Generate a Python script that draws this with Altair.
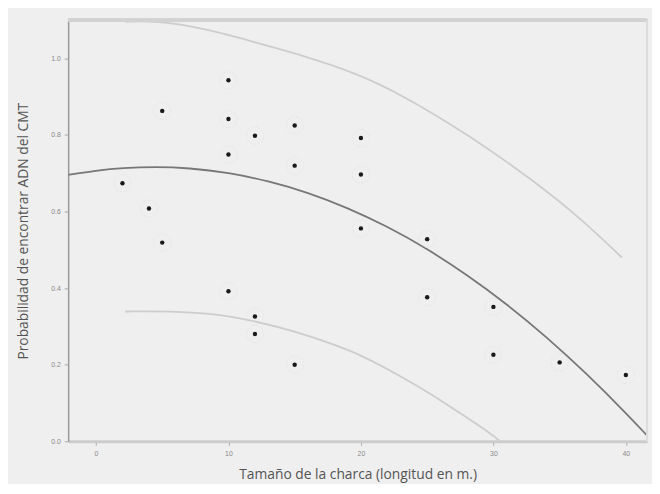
import altair as alt
import pandas as pd

# Observed points
pt_x = [10, 10, 10, 10, 5, 5, 12, 12, 12, 15, 15, 15, 20, 20, 20, 2, 4, 25, 25, 30, 30, 35, 40]
pt_y = [0.943, 0.842, 0.749, 0.392, 0.863, 0.519, 0.798, 0.326, 0.280, 0.825, 0.720, 0.200,
        0.792, 0.697, 0.556, 0.674, 0.608, 0.528, 0.376, 0.351, 0.226, 0.206, 0.173]

# Fitted curve
fit_x = [-2.1, 0, 2, 4.5, 7, 10, 13, 16, 19, 22, 25, 28, 31, 34, 37, 40, 41.6]
fit_y = [0.696, 0.707, 0.714, 0.717, 0.714, 0.702, 0.680, 0.650, 0.610, 0.561, 0.503, 0.435,
         0.359, 0.273, 0.178, 0.074, 0.015]

# Upper band
up_x = [2.2, 4.5, 7.2, 10.0, 12.2, 15.9, 19.6, 23.1, 28.0, 33.0, 36.7, 39.7]
up_y = [1.096, 1.098, 1.085, 1.062, 1.040, 1.005, 0.962, 0.905, 0.803, 0.682, 0.579, 0.480]

# Lower band
lo_x = [2.2, 6.0, 10.2, 15.2, 18.1, 20.1, 23.1, 25.1, 28.0, 30.0, 30.5]
lo_y = [0.339, 0.340, 0.330, 0.286, 0.251, 0.224, 0.168, 0.128, 0.062, 0.015, 0.0]

pts = pd.DataFrame({"x": pt_x, "y": pt_y})
curves = pd.concat([
    pd.DataFrame({"x": fit_x, "y": fit_y, "s": "fit"}),
    pd.DataFrame({"x": up_x, "y": up_y, "s": "up"}),
    pd.DataFrame({"x": lo_x, "y": lo_y, "s": "lo"}),
])

W, H = 587, 427
xs = alt.Scale(domain=[-2.1, 41.6], nice=False, zero=False)
ys = alt.Scale(domain=[0, 1.1], nice=False)

xaxis = alt.Axis(values=[0, 10, 20, 30, 40], format="d", title="Tamaño de la charca (longitud en m.)",
                 grid=False, labelFontSize=7, labelColor="#8a8a8a", tickColor="#aaaaaa", tickSize=4,
                 domainColor="#cccccc", domainWidth=3, titleFontSize=14, titleColor="#555555",
                 titleFontWeight="normal", titleFont="Open Sans", titlePadding=12, labelPadding=4)
yaxis = alt.Axis(values=[0, 0.2, 0.4, 0.6, 0.8, 1.0], format=".1f",
                 title="Probabilidad de encontrar ADN del CMT",
                 grid=False, labelFontSize=7, labelColor="#8a8a8a", tickColor="#aaaaaa", tickSize=4,
                 domainColor="#999999", domainWidth=1.5, titleFontSize=14, titleColor="#555555",
                 titleFontWeight="normal", titleFont="Open Sans", titlePadding=20, labelPadding=4)

band = alt.Chart(curves).transform_filter(alt.datum.s != "fit").mark_line(
    color="#cdcdcd", strokeWidth=1.8, clip=True, interpolate="basis"
).encode(
    x=alt.X("x:Q", scale=xs, axis=xaxis),
    y=alt.Y("y:Q", scale=ys, axis=yaxis),
    detail="s:N",
)

fit = alt.Chart(curves).transform_filter(alt.datum.s == "fit").mark_line(
    color="#777777", strokeWidth=1.8, clip=True, interpolate="basis"
).encode(x=alt.X("x:Q", scale=xs), y=alt.Y("y:Q", scale=ys))

halo = alt.Chart(pts).mark_point(color="#d8d8d8", size=300, strokeWidth=1, strokeDash=[1, 2]).encode(
    x=alt.X("x:Q", scale=xs), y=alt.Y("y:Q", scale=ys))

dots = alt.Chart(pts).mark_point(shape="circle", filled=True, color="#1a1a1a", size=20, opacity=1).encode(
    x=alt.X("x:Q", scale=xs), y=alt.Y("y:Q", scale=ys))

top = alt.Chart(pts).mark_rule(color="#d2d2d2", strokeWidth=3).encode(
    x=alt.value(0), x2=alt.value(W), y=alt.value(0))
right = alt.Chart(pts).mark_rule(color="#dddddd", strokeWidth=1.5).encode(
    x=alt.value(W), y=alt.value(0), y2=alt.value(H))

chart = alt.layer(band, fit, halo, dots, top, right).properties(
    width=W, height=H,
    autosize=alt.AutoSizeParams(type="none"),
    padding={"left": 61, "top": 9, "right": 5, "bottom": 40},
    background="#efefef",
).configure_view(stroke=None, fill="#efefef")

chart.save("out.html", embed_options={"renderer": "svg", "actions": False})
